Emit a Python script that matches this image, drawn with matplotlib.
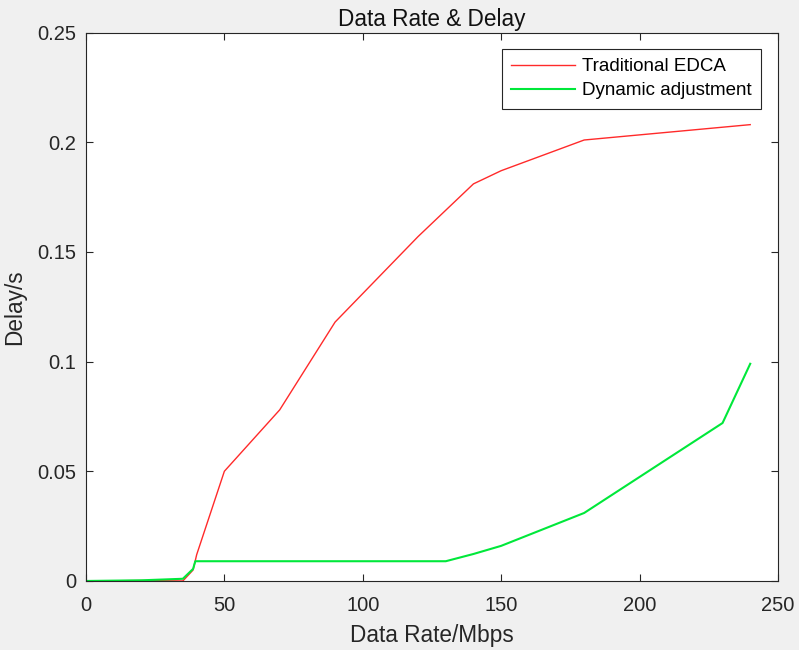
import matplotlib.pyplot as plt

plt.rcParams['font.family'] = ['Liberation Sans', 'DejaVu Sans']

# data
rate_edca = [0, 20, 35, 38.7, 40, 50, 70, 90, 120, 140, 150, 180, 240]
delay_edca = [0, 0.0002, 0, 0.005, 0.012, 0.05, 0.078, 0.118, 0.157, 0.181, 0.187, 0.201, 0.208]

rate_dyn = [0, 20, 35, 38.7, 39.5, 130, 140, 150, 180, 230, 240]
delay_dyn = [0, 0.0003, 0.001, 0.0055, 0.009, 0.009, 0.0123, 0.016, 0.031, 0.072, 0.099]

xticks = [0, 50, 100, 150, 200, 250]
yticks = [0, 0.05, 0.1, 0.15, 0.2, 0.25]
ytick_labels = ['0', '0.05', '0.1', '0.15', '0.2', '0.25']

fig = plt.figure(figsize=(7.99, 6.5), dpi=100, facecolor='#f0f0f0')
ax = fig.add_axes([0.1076, 0.1062, 0.866, 0.8438])

ax.plot(rate_edca, delay_edca, color='#ff2a2a', lw=1.0, label='Traditional EDCA')
ax.plot(rate_dyn, delay_dyn, color='#00e83a', lw=1.5, label='Dynamic adjustment')

ax.set_xlim(0, 250)
ax.set_ylim(0, 0.25)
ax.set_xticks(xticks)
ax.set_yticks(yticks)
ax.set_yticklabels(ytick_labels)
ax.tick_params(direction='in', top=True, right=True, labelsize=14.5,
               colors='#262626', length=5, width=0.8)
ax.tick_params(axis='x', pad=11)
ax.tick_params(axis='y', pad=7)
for s in ax.spines.values():
    s.set_color('#262626')
    s.set_linewidth(0.8)

ax.set_xlabel('Data Rate/Mbps', fontsize=16.3, color='#262626', labelpad=6)
ax.set_ylabel('Delay/s', fontsize=16.3, color='#262626', labelpad=8)
ax.set_title('Data Rate & Delay', fontsize=16.3, color='#111111', pad=5)

leg = ax.legend(loc='upper right', bbox_to_anchor=(0.975, 0.97), fontsize=13.5,
                fancybox=False, framealpha=1, edgecolor='#262626',
                handlelength=3.4, borderaxespad=0, borderpad=0.5,
                labelspacing=0.36, handletextpad=0.35)
leg.get_frame().set_linewidth(0.8)

fig.savefig('out.png', dpi=100, facecolor=fig.get_facecolor())
